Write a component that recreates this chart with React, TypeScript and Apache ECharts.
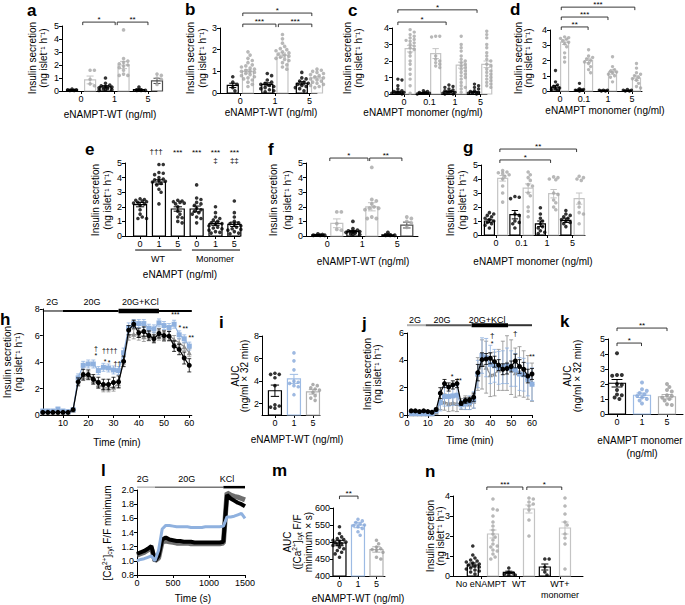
import React, { useEffect, useRef } from "react";
import * as echarts from "echarts";

const FONT = "'Liberation Sans', Arial, Helvetica, sans-serif";

// ---------------- DATA ----------------
// panel a
const aLabels = ["0", "1", "5"];
const aMean = [0.08, 0.85, 0.32, 2.0, 0.1, 0.78];
const aSem = [0.03, 0.3, 0.09, 0.28, 0.07, 0.2];
const aDots = [
  [0.15, 0.1, 0.1, 0.05, 0.05],
  [1.6, 1.6, 0.9, 0.55, 0.4],
  [1.0, 0.6, 0.45, 0.4, 0.35, 0.3, 0.25, 0.2, 0.15, 0.1, 0.1, 0.05],
  [4.7, 2.5, 2.3, 2.2, 2.1, 2.0, 1.9, 1.8, 1.6, 1.3, 1.2, 1.2],
  [0.3, 0.05, 0.05, 0.05],
  [1.3, 1.2, 1.0, 0.9, 0.5],
];
// panel b
const bLabels = ["0", "1", "5"];
const bMean = [0.35, 1.0, 0.4, 1.75, 0.45, 0.7];
const bSem = [0.1, 0.08, 0.07, 0.1, 0.07, 0.05];
const bDots = [
  [0.75, 0.5, 0.4, 0.25, 0.1],
  [1.9, 1.75, 1.6, 1.5, 1.4, 1.3, 1.25, 1.2, 1.15, 1.1, 1.05, 1.0, 1.0, 0.95, 0.9, 0.85, 0.8, 0.75, 0.7, 0.65, 0.6, 0.5, 0.4, 0.3],
  [0.9, 0.8, 0.6, 0.5, 0.45, 0.4, 0.35, 0.3, 0.25, 0.2, 0.15, 0.1, 0.05],
  [2.7, 2.5, 2.3, 2.15, 2.05, 2.0, 1.95, 1.9, 1.85, 1.8, 1.75, 1.7, 1.65, 1.6, 1.55, 1.5, 1.4, 1.3, 1.2, 1.1],
  [0.95, 0.7, 0.65, 0.55, 0.5, 0.45, 0.4, 0.35, 0.3, 0.25, 0.2, 0.1],
  [1.1, 1.05, 1.0, 0.95, 0.9, 0.85, 0.8, 0.75, 0.7, 0.65, 0.6, 0.55, 0.5, 0.45, 0.4, 0.35, 0.3, 0.25],
];
// panel c
const cLabels = ["0", "0.1", "1", "5"];
const cMean = [0.12, 2.75, 0.07, 2.45, 0.15, 1.75, 0.12, 1.8];
const cSem = [0.05, 0.2, 0.03, 0.3, 0.04, 0.18, 0.04, 0.2];
const cDots = [
  [0.9, 0.85, 0.5, 0.3, 0.2, 0.15, 0.1, 0.1, 0.05, 0.05, 0.05, 0.0],
  [3.9, 3.75, 3.6, 3.5, 3.4, 3.3, 3.25, 3.2, 3.1, 3.0, 2.9, 2.8, 2.7, 2.5, 2.3, 2.0, 1.8, 1.5, 1.2, 0.9, 0.5, 0.05],
  [0.2, 0.15, 0.1, 0.1, 0.05, 0.05, 0.0],
  [3.5, 3.5, 3.45, 2.3, 2.1, 2.0, 1.9, 1.8, 1.7, 1.6],
  [0.55, 0.45, 0.4, 0.3, 0.25, 0.2, 0.15, 0.1, 0.1, 0.05, 0.05, 0.0, 0.0],
  [3.5, 3.0, 2.8, 2.6, 2.3, 2.1, 2.0, 1.9, 1.8, 1.7, 1.6, 1.5, 1.4, 1.3, 1.2, 1.1, 1.0, 0.9, 0.7, 0.5, 0.4, 0.3, 0.1],
  [0.6, 0.5, 0.4, 0.3, 0.2, 0.15, 0.1, 0.05, 0.05, 0.0],
  [3.8, 3.6, 3.4, 3.0, 2.8, 2.5, 2.3, 2.1, 2.0, 1.8, 1.7, 1.5, 1.4, 1.3, 1.2, 1.1, 1.0, 0.9, 0.8, 0.7, 0.6, 0.5, 0.4],
];
// panel d
const dLabels = ["0", "0.1", "1", "5"];
const dMean = [0.25, 3.2, 0.08, 2.0, 0.03, 1.25, 0.03, 0.85];
const dSem = [0.12, 0.15, 0.05, 0.15, 0.01, 0.15, 0.01, 0.15];
const dDots = [
  [1.35, 0.6, 0.4, 0.3, 0.2, 0.15, 0.1, 0.05],
  [3.55, 3.5, 3.45, 3.4, 3.3, 3.2, 3.1, 2.9, 2.5, 2.2, 1.9],
  [0.5, 0.15, 0.1, 0.05, 0.05, 0.0],
  [2.7, 2.3, 2.2, 2.1, 2.0, 1.9, 1.8, 1.6, 1.4, 1.2],
  [0.05, 0.05, 0.05, 0.0, 0.0],
  [2.25, 1.6, 1.4, 1.3, 1.25, 1.2, 1.1, 1.0, 0.9, 0.6],
  [0.1, 0.05, 0.05, 0.0, 0.0],
  [1.8, 1.5, 1.2, 1.1, 1.0, 0.9, 0.8, 0.7, 0.5, 0.3, 0.2],
];
// panel e
const eLabels = ["0", "1", "5", "0", "1", "5"];
const eMean = [2.15, 3.7, 1.85, 1.85, 0.85, 0.8];
const eSem = [0.15, 0.15, 0.15, 0.2, 0.12, 0.15];
const eDots = [
  [2.55, 2.5, 2.45, 2.4, 2.35, 2.3, 2.25, 2.2, 2.1, 1.8, 1.5, 1.3, 1.2, 1.2],
  [4.9, 4.9, 4.35, 4.3, 4.2, 4.0, 3.9, 3.85, 3.8, 3.75, 3.7, 3.6, 3.5, 3.2, 3.0, 2.2],
  [2.45, 2.4, 2.35, 2.3, 2.25, 2.2, 2.0, 1.7, 1.5, 1.3, 1.25, 1.0, 0.9],
  [3.5, 2.6, 2.5, 2.3, 2.2, 2.1, 1.9, 1.8, 1.7, 1.6, 1.5, 1.3, 1.2, 0.9],
  [2.0, 1.6, 1.3, 1.2, 1.1, 1.0, 0.9, 0.85, 0.8, 0.7, 0.6, 0.55, 0.5, 0.4, 0.3, 0.25, 0.2],
  [2.4, 1.6, 1.3, 1.0, 0.9, 0.85, 0.8, 0.7, 0.6, 0.5, 0.45, 0.4, 0.3, 0.2, 0.15],
];
// panel f
const fLabels = ["0", "1", "5"];
const fMean = [0.08, 0.87, 0.3, 2.0, 0.08, 0.75];
const fSem = [0.03, 0.3, 0.08, 0.28, 0.06, 0.2];
const fDots = [
  [0.15, 0.1, 0.05, 0.05, 0.05],
  [1.65, 1.65, 0.85, 0.45, 0.4],
  [1.0, 0.5, 0.4, 0.35, 0.3, 0.3, 0.25, 0.2, 0.15, 0.1, 0.1],
  [4.7, 2.5, 2.4, 2.2, 2.0, 1.9, 1.9, 1.8, 1.3, 1.2, 1.2],
  [0.25, 0.05, 0.05, 0.05],
  [1.3, 1.2, 1.0, 0.9, 0.6],
];
// panel g
const gLabels = ["0", "0.1", "1", "5"];
const gMean = [1.0, 4.05, 1.45, 3.35, 0.8, 2.95, 1.05, 2.6];
const gSem = [0.12, 0.2, 0.3, 0.3, 0.2, 0.3, 0.15, 0.4];
const gDots = [
  [1.6, 1.5, 1.4, 1.3, 1.2, 1.1, 1.0, 0.9, 0.8, 0.7, 0.5],
  [4.6, 4.5, 4.45, 4.4, 4.3, 4.2, 4.0, 3.5, 3.0, 2.35],
  [2.75, 2.7, 2.6, 1.5, 1.4, 1.0, 0.9, 0.8, 0.5],
  [4.5, 4.3, 4.1, 3.9, 3.6, 3.5, 3.0, 2.8, 2.0, 1.7, 1.3],
  [1.95, 1.5, 1.2, 1.0, 0.8, 0.6, 0.5, 0.3, 0.2, 0.1],
  [4.15, 4.1, 4.0, 3.95, 3.0, 2.9, 2.5, 2.3, 2.0, 1.8],
  [1.75, 1.5, 1.4, 1.3, 1.2, 1.1, 1.0, 0.9, 0.8, 0.6],
  [4.2, 4.1, 4.0, 3.9, 2.3, 2.0, 1.6, 1.5, 0.8],
];
// panel h (time course, WT)
const hTime = [2, 4, 6, 8, 10, 12, 14, 16, 18, 20, 22, 24, 26, 28, 30, 32, 34, 36, 38, 40, 42, 44, 46, 48, 50, 52, 54, 56, 58, 60];
const hCtrl = [0.2, 0.2, 0.2, 0.2, 0.2, 0.2, 0.4, 2.5, 3.05, 3.05, 2.7, 2.45, 2.3, 2.3, 2.45, 2.5, 4.05, 6.4, 6.85, 6.2, 6.3, 6.0, 5.75, 6.15, 6.0, 5.95, 5.2, 4.95, 4.3, 3.75];
const hCtrlErr = [0.05, 0.05, 0.05, 0.05, 0.05, 0.05, 0.1, 0.3, 0.4, 0.35, 0.35, 0.4, 0.4, 0.4, 0.4, 0.45, 0.4, 0.35, 0.3, 0.35, 0.35, 0.35, 0.3, 0.35, 0.35, 0.35, 0.4, 0.4, 0.45, 0.5];
const hWT1 = [0.3, 0.3, 0.3, 0.45, 0.3, 0.25, 0.4, 2.8, 3.75, 3.85, 3.85, 3.35, 3.6, 3.55, 3.4, 3.35, 4.7, 6.6, 6.9, 6.9, 6.9, 6.55, 6.5, 6.95, 6.75, 6.6, 6.85, 6.05, 5.75, 5.2];
const hWT1Err = [0.08, 0.08, 0.08, 0.1, 0.08, 0.08, 0.1, 0.3, 0.3, 0.3, 0.3, 0.3, 0.3, 0.3, 0.3, 0.3, 0.35, 0.35, 0.3, 0.3, 0.3, 0.3, 0.3, 0.3, 0.3, 0.3, 0.3, 0.3, 0.3, 0.3];
const hWT5 = [0.2, 0.2, 0.2, 0.2, 0.2, 0.2, 0.35, 2.6, 2.9, 2.95, 2.6, 2.3, 2.05, 2.05, 2.1, 2.35, 4.1, 6.0, 6.1, 6.0, 5.9, 5.95, 5.9, 6.0, 5.9, 6.0, 5.7, 5.45, 5.15, 4.7];
const hWT5Err = [0.05, 0.05, 0.05, 0.05, 0.05, 0.05, 0.1, 0.3, 0.3, 0.3, 0.3, 0.3, 0.3, 0.3, 0.3, 0.3, 0.3, 0.35, 0.35, 0.35, 0.35, 0.35, 0.35, 0.35, 0.35, 0.35, 0.3, 0.3, 0.3, 0.3];
// panel i
const iLabels = ["0", "1", "5"];
const iMean = [3.15, 4.2, 3.05];
const iSem = [0.5, 0.4, 0.2];
const iDots = [
  [4.7, 4.6, 4.6, 4.3, 3.6, 1.9, 1.8, 1.7, 1.6],
  [6.5, 5.8, 5.0, 4.0, 3.9, 3.8, 3.6, 3.5, 2.8],
  [3.7, 3.6, 3.4, 3.3, 3.2, 3.0, 2.7, 2.5, 2.3],
];
// panel j (time course, monomer)
const jTime = [2, 4, 6, 8, 10, 12, 14, 16, 18, 20, 22, 24, 26, 28, 30, 32, 34, 36, 38, 40, 42, 44, 46, 48, 50, 52, 54, 56, 58, 60];
const jCtrl = [0.3, 0.3, 0.25, 0.3, 0.25, 0.2, 0.4, 1.6, 2.3, 2.05, 2.2, 2.3, 0.85, 1.05, 1.1, 1.3, 3.1, 4.05, 4.1, 4.15, 3.9, 3.65, 3.35, 3.4, 3.55, 3.95, 3.55, 3.35, 2.85, 3.0];
const jCtrlErr = [0.05, 0.05, 0.05, 0.05, 0.05, 0.05, 0.1, 0.4, 0.3, 0.3, 0.3, 0.3, 0.15, 0.2, 0.2, 0.3, 0.6, 0.5, 0.4, 0.4, 0.4, 0.4, 0.4, 0.4, 0.4, 0.5, 0.5, 0.5, 0.5, 0.4];
const jM1 = [0.1, 0.1, 0.1, 0.1, 0.1, 0.1, 0.3, 0.9, 1.35, 1.35, 1.4, 1.45, 0.75, 0.8, 0.9, 1.1, 3.0, 4.35, 4.2, 3.7, 3.6, 3.45, 3.5, 3.6, 3.4, 3.3, 3.0, 2.95, 2.6, 2.25];
const jM1Err = [0.05, 0.05, 0.05, 0.05, 0.05, 0.05, 0.1, 0.6, 0.7, 0.7, 0.7, 0.7, 0.3, 0.4, 0.5, 0.6, 1.0, 1.3, 1.4, 1.4, 1.2, 1.2, 1.2, 1.3, 1.3, 1.2, 1.2, 1.2, 1.2, 1.2];
const jM5 = [0.1, 0.1, 0.1, 0.1, 0.1, 0.1, 0.2, 1.0, 0.95, 0.85, 0.9, 0.85, 0.8, 0.9, 0.8, 1.0, 3.0, 3.7, 3.5, 2.95, 3.0, 3.3, 3.6, 3.8, 3.5, 3.1, 3.2, 3.0, 2.75, 2.4];
const jM5Err = [0.05, 0.05, 0.05, 0.05, 0.05, 0.05, 0.1, 0.6, 0.6, 0.6, 0.6, 0.6, 0.4, 0.5, 0.4, 0.5, 1.2, 1.8, 1.9, 1.6, 1.6, 1.5, 1.8, 2.0, 2.0, 1.8, 1.8, 1.7, 1.6, 1.4];
// panel k
const kLabels = ["0", "1", "5"];
const kMean = [2.05, 1.25, 1.15];
const kSem = [0.25, 0.15, 0.15];
const kDots = [
  [4.05, 2.6, 2.6, 2.55, 2.0, 1.95, 1.6, 1.3, 1.25, 1.1, 1.0],
  [2.1, 1.65, 1.55, 1.4, 1.3, 1.2, 1.1, 1.0, 0.9, 0.7],
  [2.0, 1.8, 1.6, 1.5, 1.25, 1.2, 1.1, 1.0, 0.9, 0.65, 0.6],
];
// panel l (calcium traces)
const lTime = [0, 50, 100, 150, 200, 250, 300, 350, 400, 450, 500, 550, 600, 650, 700, 750, 800, 850, 900, 950, 1000, 1050, 1100, 1150, 1200, 1250, 1300, 1350, 1400, 1450, 1500];
const lCtrl = [1.1, 1.12, 1.14, 1.17, 1.21, 1.0, 1.07, 1.3, 1.33, 1.3, 1.29, 1.28, 1.28, 1.27, 1.27, 1.27, 1.26, 1.26, 1.26, 1.26, 1.26, 1.26, 1.26, 1.26, 1.27, 1.93, 1.88, 1.85, 1.82, 1.8, 1.77];
const lWT1 = [1.0, 1.02, 1.03, 1.05, 1.07, 1.0, 1.15, 1.45, 1.5, 1.5, 1.49, 1.48, 1.48, 1.48, 1.48, 1.47, 1.47, 1.47, 1.47, 1.48, 1.48, 1.48, 1.48, 1.48, 1.49, 1.62, 1.62, 1.63, 1.65, 1.67, 1.6];
const lWT5 = [1.08, 1.1, 1.12, 1.15, 1.18, 1.0, 1.04, 1.27, 1.28, 1.27, 1.26, 1.25, 1.25, 1.25, 1.25, 1.24, 1.24, 1.24, 1.24, 1.24, 1.24, 1.24, 1.24, 1.24, 1.25, 1.96, 1.93, 1.91, 1.9, 1.88, 1.86];
// panel m
const mLabels = ["0", "1", "5"];
const mMean = [497, 550, 478];
const mSem = [8, 8, 8];
const mDots = [
  [545, 525, 515, 510, 507, 505, 502, 500, 498, 495, 493, 490, 485, 480, 475, 470, 465, 455],
  [567, 562, 557, 553, 550, 548, 545, 540, 530, 520],
  [505, 495, 485, 480, 478, 475, 470, 455, 450],
];
// panel n
const nLabels = ["No eNAMPT", "WT", "WT+\nmonomer"];
const nMean = [0.55, 2.1, 0.18, 3.35, 0.45, 2.4];
const nSem = [0.1, 0.2, 0.06, 0.2, 0.15, 0.3];
const nDots = [
  [1.5, 1.05, 0.9, 0.8, 0.75, 0.7, 0.65, 0.6, 0.55, 0.5, 0.45, 0.4, 0.35, 0.3, 0.25, 0.2, 0.1],
  [3.85, 3.35, 3.3, 3.0, 2.7, 2.5, 2.3, 2.1, 1.95, 1.8, 1.6, 1.5, 1.45, 1.3, 1.25, 1.1, 0.95, 0.85],
  [0.4, 0.2, 0.15, 0.1, 0.05, 0.05],
  [3.9, 3.85, 3.7, 3.6, 3.5, 3.3, 2.8, 2.0],
  [0.85, 0.85, 0.45, 0.2, 0.05],
  [3.9, 3.5, 3.1, 2.7, 2.55, 2.1, 1.9, 1.6, 0.35],
];

// ---------------- STYLE ----------------
const ROLE: any = {
  k: { stroke: "#000000", dot: "#000000" },
  g: { stroke: "#c4c4c4", dot: "#a6a6a6" },
  G: { stroke: "#4d4d4d", dot: "#a6a6a6" },
  b: { stroke: "#9dbbe4", dot: "#86a8da" },
  m: { stroke: "#b3b3b3", dot: "#9a9a9a" },
};
const BLUE = "#8fb1df";
const GRAY = "#8e8e8e";

// ---------------- BUILDERS ----------------
const grids: any[] = [];
const xAxes: any[] = [];
const yAxes: any[] = [];
const series: any[] = [];
const graphics: any[] = [];

function pairBars(means: number[], sems: number[], dots: number[][], roles: string, d: number) {
  return means.map((m, i) => ({
    x: Math.floor(i / 2) + (i % 2 === 0 ? -d : d),
    mean: m, sem: sems[i], role: roles[i], dots: dots[i],
  }));
}
function singleBars(means: number[], sems: number[], dots: number[][], roles: string) {
  return means.map((m, i) => ({ x: i, mean: m, sem: sems[i], role: roles[i], dots: dots[i] }));
}

function swarm(vals: number[], ppu: number, size: number, half: number): number[] {
  const placed: [number, number][] = [];
  const out: number[] = [];
  const step = size * 0.6;
  const cands: number[] = [0];
  for (let k = 1; k * step <= half; k++) cands.push(k * step, -k * step);
  vals.forEach((v) => {
    const y = v * ppu;
    let best = cands[0];
    let bestD = -1;
    for (const c of cands) {
      let dmin = Infinity;
      for (const [px, py] of placed) dmin = Math.min(dmin, Math.hypot(px - c, py - y));
      if (dmin >= size * 0.95) { best = c; break; }
      if (dmin > bestD) { bestD = dmin; best = c; }
    }
    placed.push([best, y]);
    out.push(best);
  });
  return out;
}

function labelFor(v: number, pos: number[], labels: string[]) {
  let bi = 0, bd = Infinity;
  pos.forEach((p, i) => { const d = Math.abs(p - v); if (d < bd) { bd = d; bi = i; } });
  return labels[bi];
}

const axisLine = { show: true, onZero: false, lineStyle: { color: "#000", width: 1 } };
const tickStyle = { color: "#000", width: 1 };

function makeX(gi: number, p: any) {
  const ax: any = {
    gridIndex: gi, type: "value", min: p.x[0], max: p.x[1],
    axisLine, splitLine: { show: false },
    axisTick: { show: true, length: 3, lineStyle: tickStyle },
    axisLabel: { fontSize: 9, fontFamily: FONT, color: "#000", margin: 2, lineHeight: 11, formatter: (v: number) => String(v) },
  };
  if (p.xInterval) ax.interval = p.xInterval;
  if (p.labelPos) {
    ax.axisTick.customValues = p.labelPos;
    ax.axisLabel.customValues = p.labelPos;
    if (p.labels) ax.axisLabel.formatter = (v: number) => labelFor(v, p.labelPos, p.labels);
  }
  if (p.xLabelSize) ax.axisLabel.fontSize = p.xLabelSize;
  return ax;
}
function makeY(gi: number, p: any) {
  const ax: any = {
    gridIndex: gi, type: "value", min: p.y[0], max: p.y[1],
    axisLine, splitLine: { show: false },
    axisTick: { show: true, length: 3, lineStyle: tickStyle },
    axisLabel: { fontSize: 9, fontFamily: FONT, color: "#000", margin: 3 },
  };
  if (p.yInterval) ax.interval = p.yInterval;
  if (p.yTicks) { ax.axisTick.customValues = p.yTicks; ax.axisLabel.customValues = p.yTicks; }
  if (p.yFmt) ax.axisLabel.formatter = p.yFmt;
  return ax;
}

function decoSeries(gi: number, items: any[]) {
  return {
    type: "custom", xAxisIndex: gi, yAxisIndex: gi, silent: true, z: 6,
    data: items.map((it) => [it.x !== undefined ? it.x : it.x1, it.y !== undefined ? it.y : it.y1]),
    renderItem: (params: any, api: any) => {
      const it = items[params.dataIndex];
      if (it.k === "seg") {
        const p1 = api.coord([it.x1, it.y1]);
        const p2 = api.coord([it.x2, it.y2]);
        return { type: "line", shape: { x1: p1[0], y1: p1[1], x2: p2[0], y2: p2[1] }, style: { stroke: it.c || "#000", lineWidth: it.w || 1 } };
      }
      if (it.k === "txt") {
        const p = api.coord([it.x, it.y]);
        return {
          type: "text", x: p[0], y: p[1],
          style: { text: it.t, fontSize: it.s || 8, fontFamily: FONT, fill: it.c || "#000", textAlign: "center", textVerticalAlign: "middle", align: "center", verticalAlign: "middle" },
        };
      }
      const p1 = api.coord([it.x1, it.y]);
      const p2 = api.coord([it.x2, it.y]);
      const dr = 3;
      return {
        type: "group",
        children: [
          { type: "polyline", shape: { points: [[p1[0], p1[1] + dr], [p1[0], p1[1]], [p2[0], p2[1]], [p2[0], p2[1] + dr]] }, style: { stroke: it.c || "#222", fill: null, lineWidth: 0.9 } },
          { type: "text", x: (p1[0] + p2[0]) / 2, y: p1[1] + 1.5, style: { text: it.t, fontSize: 8, fontFamily: FONT, fill: "#000", textAlign: "center", textVerticalAlign: "bottom", align: "center", verticalAlign: "bottom" } },
        ],
      };
    },
  };
}

function barPanel(p: any) {
  const gi = grids.length;
  const [left, top, width, height] = p.box;
  grids.push({ left, top, width, height });
  xAxes.push(makeX(gi, p));
  yAxes.push(makeY(gi, p));
  const bars = p.bars;
  const y0 = p.y[0];
  const bw = p.barW;
  series.push({
    type: "custom", xAxisIndex: gi, yAxisIndex: gi, silent: true, z: 2,
    data: bars.map((b: any) => [b.x, b.mean, b.sem]),
    renderItem: (params: any, api: any) => {
      const b = bars[params.dataIndex];
      const st = ROLE[b.role];
      const t = api.coord([b.x, b.mean]);
      const base = api.coord([b.x, y0]);
      const eT = api.coord([b.x, b.mean + b.sem]);
      const eB = api.coord([b.x, Math.max(y0, b.mean - b.sem)]);
      const cw = bw * 0.32;
      return {
        type: "group",
        children: [
          { type: "rect", shape: { x: t[0] - bw / 2, y: t[1], width: bw, height: Math.max(0, base[1] - t[1]) }, style: { fill: "#fff", stroke: st.stroke, lineWidth: 1.2 } },
          { type: "line", shape: { x1: t[0], y1: eB[1], x2: t[0], y2: eT[1] }, style: { stroke: st.stroke, lineWidth: 1 } },
          { type: "line", shape: { x1: t[0] - cw, y1: eT[1], x2: t[0] + cw, y2: eT[1] }, style: { stroke: st.stroke, lineWidth: 1 } },
          { type: "line", shape: { x1: t[0] - cw, y1: eB[1], x2: t[0] + cw, y2: eB[1] }, style: { stroke: st.stroke, lineWidth: 1 } },
        ],
      };
    },
  });
  const ppu = height / (p.y[1] - p.y[0]);
  const items: any[] = [];
  bars.forEach((b: any) => {
    const st = ROLE[b.role];
    const offs = swarm(b.dots, ppu, p.dot, bw / 2 + 1.5);
    b.dots.forEach((v: number, k: number) => {
      items.push({ value: [b.x, v], symbolOffset: [offs[k], 0], itemStyle: { color: st.dot } });
    });
  });
  series.push({ type: "scatter", xAxisIndex: gi, yAxisIndex: gi, symbolSize: p.dot, data: items, z: 4, silent: true, clip: false });
  const deco = (p.brackets || []).map((br: any) => ({ k: "br", ...br })).concat(p.deco || []);
  if (deco.length) series.push(decoSeries(gi, deco));
  return gi;
}

function linePanel(p: any) {
  const gi = grids.length;
  const [left, top, width, height] = p.box;
  grids.push({ left, top, width, height });
  xAxes.push(makeX(gi, p));
  yAxes.push(makeY(gi, p));
  p.lines.forEach((ln: any) => {
    if (ln.err) {
      series.push({
        type: "custom", xAxisIndex: gi, yAxisIndex: gi, silent: true, z: ln.z || 3,
        data: ln.xs.map((x: number, i: number) => [x, ln.ys[i], ln.err[i]]),
        renderItem: (params: any, api: any) => {
          const x = api.value(0), y = api.value(1), e = api.value(2);
          const a = api.coord([x, y + e]);
          const b = api.coord([x, y - e]);
          return {
            type: "group",
            children: [
              { type: "line", shape: { x1: a[0], y1: a[1], x2: b[0], y2: b[1] }, style: { stroke: ln.color, lineWidth: 0.8 } },
              { type: "line", shape: { x1: a[0] - 2, y1: a[1], x2: a[0] + 2, y2: a[1] }, style: { stroke: ln.color, lineWidth: 0.8 } },
              { type: "line", shape: { x1: b[0] - 2, y1: b[1], x2: b[0] + 2, y2: b[1] }, style: { stroke: ln.color, lineWidth: 0.8 } },
            ],
          };
        },
      });
    }
    series.push({
      type: "line", xAxisIndex: gi, yAxisIndex: gi, silent: true, z: ln.z || 3,
      data: ln.xs.map((x: number, i: number) => [x, ln.ys[i]]),
      symbol: ln.symbol || "none", symbolSize: ln.size || 5, showSymbol: !!ln.symbol,
      lineStyle: { color: ln.color, width: ln.width || 1.2 },
      itemStyle: { color: ln.color },
      clip: false,
    });
  });
  if (p.deco && p.deco.length) series.push(decoSeries(gi, p.deco));
  return gi;
}

// ---------------- PANELS ----------------
// a
barPanel({
  box: [62, 26, 95, 65], x: [-0.57, 2.27], y: [0, 5], yInterval: 1,
  labelPos: [0, 1, 2], labels: aLabels, barW: 11, dot: 3.6,
  bars: pairBars(aMean, aSem, aDots, "kgkgkG", 0.27),
  brackets: [{ x1: 0.05, x2: 1.02, y: 5.3, t: "*" }, { x1: 1.08, x2: 2.0, y: 5.3, t: "**" }],
});
// b
barPanel({
  box: [220, 28, 97, 65], x: [-0.59, 2.22], y: [0, 3], yInterval: 1,
  labelPos: [0, 1, 2], labels: bLabels, barW: 11, dot: 3.6,
  bars: pairBars(bMean, bSem, bDots, "kgkgkg", 0.22),
  brackets: [
    { x1: 0.07, x2: 2.07, y: 3.69, t: "*" },
    { x1: 0.07, x2: 1.03, y: 3.18, t: "***" },
    { x1: 1.1, x2: 2.07, y: 3.18, t: "***" },
  ],
});
// c
barPanel({
  box: [392, 28, 95, 66], x: [-0.47, 3.25], y: [0, 4], yInterval: 1,
  labelPos: [0, 1, 2, 3], labels: cLabels, barW: 10, dot: 3.4,
  bars: pairBars(cMean, cSem, cDots, "kgkgkgkg", 0.24),
  brackets: [{ x1: -0.24, x2: 1.65, y: 4.36, t: "*" }, { x1: -0.24, x2: 2.86, y: 5.1, t: "*" }],
});
// d
barPanel({
  box: [550, 30, 92, 61], x: [-0.42, 3.42], y: [0, 4], yInterval: 1,
  labelPos: [0, 1, 2, 3], labels: dLabels, barW: 8, dot: 3.4,
  bars: pairBars(dMean, dSem, dDots, "kgkgkgkg", 0.19),
  brackets: [
    { x1: 0.05, x2: 1.17, y: 4.2, t: "**" },
    { x1: 0.05, x2: 2.0, y: 4.85, t: "***" },
    { x1: 0.05, x2: 3.12, y: 5.5, t: "***" },
  ],
});
// e
barPanel({
  box: [125, 163, 115, 73], x: [-0.8, 5.3], y: [0, 5], yInterval: 1,
  labelPos: [0, 1, 2, 3, 4, 5], labels: eLabels, barW: 13, dot: 3.6,
  bars: singleBars(eMean, eSem, eDots, "kkkkkk"),
  deco: [
    { k: "txt", x: 0.85, y: 5.8, t: "†††" },
    { k: "txt", x: 2, y: 5.75, t: "***" },
    { k: "txt", x: 3, y: 5.75, t: "***" },
    { k: "txt", x: 4, y: 5.75, t: "***" },
    { k: "txt", x: 5, y: 5.75, t: "***" },
    { k: "txt", x: 4, y: 5.2, t: "‡" },
    { k: "txt", x: 5, y: 5.2, t: "‡‡" },
    { k: "seg", x1: -0.26, y1: -0.96, x2: 2.2, y2: -0.96, w: 1 },
    { k: "seg", x1: 2.75, y1: -0.96, x2: 5.3, y2: -0.96, w: 1 },
    { k: "txt", x: 0.95, y: -1.55, t: "WT", s: 9 },
    { k: "txt", x: 3.97, y: -1.55, t: "Monomer", s: 9 },
  ],
});
// f
barPanel({
  box: [306, 163, 112, 73], x: [-0.61, 2.59], y: [0, 5], yInterval: 1,
  labelPos: [0, 1, 2], labels: fLabels, barW: 12, dot: 3.8,
  bars: pairBars(fMean, fSem, fDots, "kgkgkG", 0.27),
  brackets: [{ x1: 0.07, x2: 1.16, y: 5.34, t: "*" }, { x1: 1.21, x2: 2.13, y: 5.34, t: "**" }],
});
// g
barPanel({
  box: [481, 165, 104, 70], x: [-0.59, 3.49], y: [0, 5], yInterval: 1,
  labelPos: [0, 1, 2, 3], labels: gLabels, barW: 10, dot: 3.6,
  bars: pairBars(gMean, gSem, gDots, "kgkgkgkg", 0.26),
  brackets: [{ x1: 0.15, x2: 2.14, y: 5.36, t: "*" }, { x1: 0.15, x2: 3.16, y: 6.14, t: "**" }],
});
// h
linePanel({
  box: [42.8, 309, 149, 106], x: [2, 61], y: [0, 8], yInterval: 2,
  labelPos: [10, 20, 30, 40, 50, 60],
  lines: [
    { xs: hTime, ys: hWT5, err: hWT5Err, color: GRAY, symbol: "triangle", size: 5, z: 3 },
    { xs: hTime, ys: hWT1, err: hWT1Err, color: BLUE, symbol: "rect", size: 5, z: 4 },
    { xs: hTime, ys: hCtrl, err: hCtrlErr, color: "#000", symbol: "circle", size: 5, z: 5 },
  ],
  deco: [
    { k: "seg", x1: 2, y1: 7.85, x2: 10, y2: 7.85, w: 1 },
    { k: "seg", x1: 10, y1: 7.85, x2: 32, y2: 7.85, w: 2 },
    { k: "seg", x1: 32, y1: 7.85, x2: 48, y2: 7.85, w: 4.5 },
    { k: "seg", x1: 48, y1: 7.85, x2: 61, y2: 7.85, w: 2 },
    { k: "txt", x: 5.7, y: 8.5, t: "2G", s: 9 },
    { k: "txt", x: 21.5, y: 8.5, t: "20G", s: 9 },
    { k: "txt", x: 40.6, y: 8.5, t: "20G+KCl", s: 9 },
    { k: "txt", x: 23, y: 5.0, t: "†", s: 7 },
    { k: "txt", x: 23, y: 4.5, t: "*", s: 7 },
    { k: "txt", x: 28.5, y: 4.9, t: "††††", s: 7 },
    { k: "txt", x: 26.7, y: 4.05, t: "*", s: 7 },
    { k: "txt", x: 28.3, y: 3.95, t: "*", s: 7 },
    { k: "txt", x: 31.5, y: 3.9, t: "††", s: 7 },
    { k: "txt", x: 54.5, y: 7.55, t: "***", s: 7 },
    { k: "txt", x: 56.3, y: 6.6, t: "*", s: 7 },
    { k: "txt", x: 58.4, y: 6.55, t: "**", s: 7 },
    { k: "txt", x: 60.8, y: 5.85, t: "**", s: 7 },
  ],
});
// i
barPanel({
  box: [262, 336, 58, 79], x: [-0.68, 2.37], y: [1, 8], yTicks: [2, 4, 6, 8],
  labelPos: [0, 1, 2], labels: iLabels, barW: 13, dot: 3.6,
  bars: singleBars(iMean, iSem, iDots, "kbm"),
});
// j
linePanel({
  box: [407, 333, 125, 82], x: [0, 60], xInterval: 10, y: [0, 6], yInterval: 2,
  lines: [
    { xs: jTime, ys: jM5, err: jM5Err, color: GRAY, symbol: "triangle", size: 5, z: 3 },
    { xs: jTime, ys: jM1, err: jM1Err, color: BLUE, symbol: "rect", size: 5, z: 4 },
    { xs: jTime, ys: jCtrl, err: jCtrlErr, color: "#000", symbol: "circle", size: 5, z: 5 },
  ],
  deco: [
    { k: "seg", x1: 0, y1: 6.57, x2: 9, y2: 6.57, w: 2, c: "#b0b0b0" },
    { k: "seg", x1: 9, y1: 6.57, x2: 31, y2: 6.57, w: 2, c: "#555" },
    { k: "seg", x1: 31, y1: 6.57, x2: 48.5, y2: 6.57, w: 4, c: "#000" },
    { k: "seg", x1: 48.5, y1: 6.57, x2: 60, y2: 6.57, w: 2, c: "#333" },
    { k: "txt", x: 3.8, y: 6.95, t: "2G", s: 9 },
    { k: "txt", x: 16.8, y: 6.95, t: "20G", s: 9 },
    { k: "txt", x: 38.5, y: 6.95, t: "20G+KCl", s: 9 },
    { k: "txt", x: 21.6, y: 2.8, t: "*", s: 7 },
    { k: "txt", x: 25, y: 2.5, t: "**", s: 7 },
    { k: "txt", x: 40.9, y: 5.85, t: "†", s: 8 },
    { k: "txt", x: 40.9, y: 5.25, t: "*", s: 7 },
    { k: "txt", x: 52, y: 6.0, t: "†", s: 8 },
    { k: "txt", x: 60, y: 4.25, t: "**", s: 7 },
  ],
});
// k
barPanel({
  box: [608, 339, 75, 75], x: [-0.36, 2.64], y: [0, 5], yInterval: 1,
  labelPos: [0, 1, 2], labels: kLabels, barW: 17, dot: 4,
  bars: singleBars(kMean, kSem, kDots, "kbm"),
  brackets: [{ x1: 0, x2: 0.98, y: 4.73, t: "*" }, { x1: 0, x2: 2.0, y: 5.73, t: "**" }],
});
// l
linePanel({
  box: [137, 490, 108, 85], x: [0, 1500], xInterval: 500, y: [0.8, 2.0], yInterval: 0.2,
  yFmt: (v: number) => v.toFixed(1),
  lines: [
    { xs: lTime, ys: lWT5, color: "#6e6e6e", width: 5, z: 3 },
    { xs: lTime, ys: lCtrl, color: "#000", width: 4, z: 4 },
    { xs: lTime, ys: lWT1, color: BLUE, width: 3, z: 5 },
  ],
  deco: [
    { k: "seg", x1: 0, y1: 2.04, x2: 250, y2: 2.04, w: 1.5, c: "#b8b8b8" },
    { k: "seg", x1: 250, y1: 2.04, x2: 1200, y2: 2.04, w: 1.5, c: "#777" },
    { k: "seg", x1: 1200, y1: 2.04, x2: 1500, y2: 2.04, w: 2.5, c: "#000" },
    { k: "txt", x: 80, y: 2.15, t: "2G", s: 9 },
    { k: "txt", x: 690, y: 2.15, t: "20G", s: 9 },
    { k: "txt", x: 1250, y: 2.15, t: "KCl", s: 9 },
  ],
});
// m
barPanel({
  box: [333, 508, 52, 68], x: [-0.35, 2.46], y: [400, 600], yInterval: 50,
  labelPos: [0, 1, 2], labels: mLabels, barW: 13, dot: 3.6,
  bars: singleBars(mMean, mSem, mDots, "kbm"),
  brackets: [{ x1: 0, x2: 1, y: 635, t: "**" }],
});
// n
barPanel({
  box: [453, 496, 130, 80], x: [-0.83, 2.78], y: [0, 4], yInterval: 1,
  labelPos: [-0.05, 1.0, 2.14], labels: nLabels, barW: 11, dot: 3.6,
  bars: pairBars(nMean, nSem, nDots, "kgkgkg", 0.28),
  brackets: [{ x1: 0.11, x2: 1.11, y: 4.45, t: "***" }, { x1: 1.22, x2: 2.19, y: 4.45, t: "*" }],
});

// ---------------- TEXT (titles, letters) ----------------
function htext(t: string, x: number, y: number, size = 10) {
  graphics.push({ type: "text", x, y, silent: true, style: { text: t, fontSize: size, fontFamily: FONT, fill: "#000", textAlign: "center", textVerticalAlign: "middle", align: "center", verticalAlign: "middle" } });
}
function vtext(t: string, x: number, y: number, size = 10, rich?: any) {
  const style: any = { text: t, fontSize: size, fontFamily: FONT, fill: "#000", textAlign: "center", textVerticalAlign: "middle", align: "center", verticalAlign: "middle" };
  if (rich) style.rich = rich;
  graphics.push({ type: "text", x, y, rotation: Math.PI / 2, silent: true, style });
}
function letter(t: string, x: number, y: number) {
  graphics.push({ type: "text", x, y, silent: true, style: { text: t, fontSize: 17, fontWeight: "bold", fontFamily: FONT, fill: "#000", textAlign: "left", textVerticalAlign: "bottom", align: "left", verticalAlign: "bottom" } });
}

const INS1 = "Insulin secretion";
const INS2 = "(ng islet⁻¹ h⁻¹)";
htext("eNAMPT-WT (ng/ml)", 110, 114);
htext("eNAMPT-WT (ng/ml)", 271, 112);
htext("eNAMPT monomer (ng/ml)", 423, 112);
htext("eNAMPT monomer (ng/ml)", 605, 110);
htext("eNAMPT (ng/ml)", 180, 274);
htext("eNAMPT-WT (ng/ml)", 363, 261);
htext("eNAMPT monomer (ng/ml)", 533, 261);
htext("Time (min)", 117, 442);
htext("eNAMPT-WT (ng/ml)", 297, 439);
htext("Time (min)", 470, 440);
htext("eNAMPT monomer", 640, 440);
htext("(ng/ml)", 642, 453);
htext("Time (s)", 193, 598);
htext("eNAMPT-WT (ng/ml)", 358, 598);

vtext(INS1, 32, 58); vtext(INS2, 43, 58);
vtext(INS1, 190, 58); vtext(INS2, 202, 58);
vtext(INS1, 347, 58); vtext(INS2, 358, 58);
vtext(INS1, 518, 58); vtext(INS2, 528, 58);
vtext(INS1, 95, 200); vtext(INS2, 107, 200);
vtext(INS1, 273, 200); vtext(INS2, 287, 200);
vtext(INS1, 450, 200); vtext(INS2, 462, 200);
vtext(INS1, 7, 362); vtext(INS2, 18, 362);
vtext("AUC", 235, 376); vtext("(ng/ml × 32 min)", 244, 376);
vtext(INS1, 367, 374); vtext(INS2, 377, 374);
vtext("AUC", 567, 376); vtext("(ng/ml × 32 min)", 577, 376);
vtext(INS1, 430, 536); vtext(INS2, 440, 536);
const caRich = { sup: { fontSize: 6.5, fontFamily: FONT, verticalAlign: "top", lineHeight: 12 }, sub: { fontSize: 6.5, fontFamily: FONT, verticalAlign: "bottom", lineHeight: 12 } };
vtext("[Ca{sup|2+}]{sub|cyt} F/F minimum", 107, 533, 10, caRich);
vtext("AUC", 287, 542);
vtext("([Ca{sup|2+}]{sub|cyt} F/F", 297, 542, 10, caRich);
vtext("minimum × s)", 308, 542);

letter("a", 27, 19);
letter("b", 185, 18);
letter("c", 348, 19);
letter("d", 510, 18);
letter("e", 85, 158);
letter("f", 268, 158);
letter("g", 463, 156);
letter("h", 0, 328);
letter("i", 219, 331);
letter("j", 362, 332);
letter("k", 560, 330);
letter("l", 101, 479);
letter("m", 272, 479);
letter("n", 425, 480);

// ---------------- COMPONENT ----------------
export default function App() {
  const ref = useRef<HTMLDivElement>(null);
  useEffect(() => {
    if (!ref.current) return;
    const chart = echarts.init(ref.current, undefined, { renderer: "svg" });
    chart.setOption({
      animation: false,
      backgroundColor: "#ffffff",
      textStyle: { fontFamily: FONT },
      grid: grids,
      xAxis: xAxes,
      yAxis: yAxes,
      series,
      graphic: { elements: graphics },
    });
    return () => chart.dispose();
  }, []);
  return <div ref={ref} style={{ position: "fixed", left: 0, top: 0, width: 685, height: 605, background: "#fff" }} />;
}
